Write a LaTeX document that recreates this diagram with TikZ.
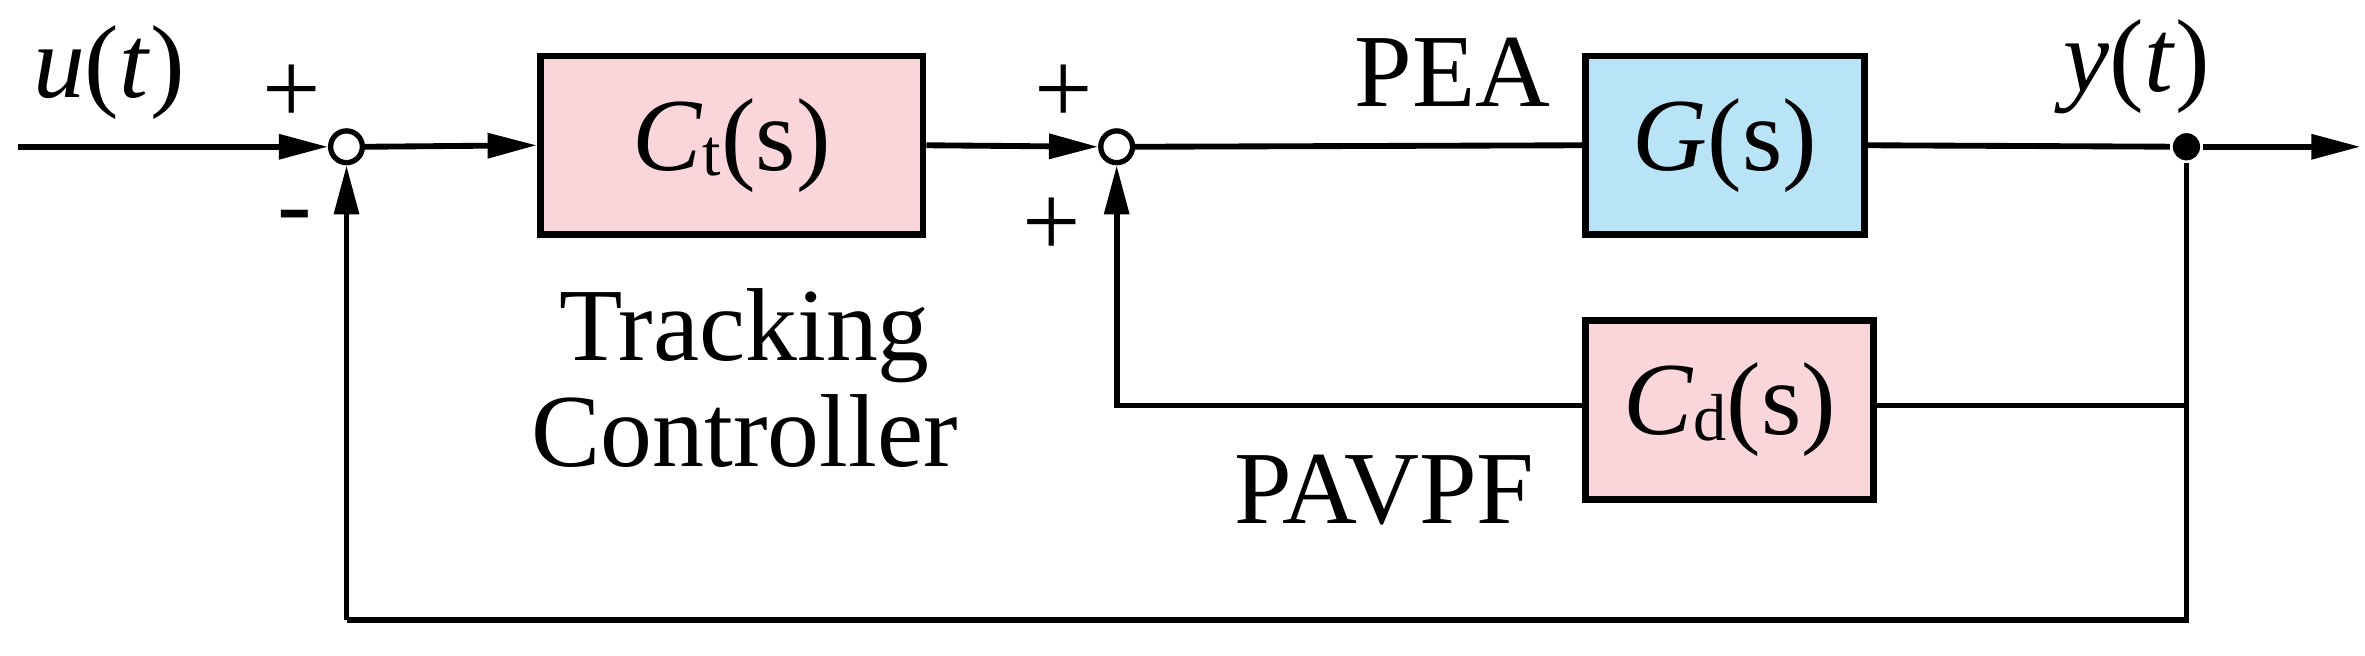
\documentclass[tikz,border=0pt]{standalone}
\usepackage{fontspec}
\setmainfont{Liberation Serif}
\usetikzlibrary{arrows.meta}
\begin{document}
\begin{tikzpicture}[x=0.02cm,y=-0.02cm,line width=2.2pt,
  blk/.style={draw,line width=2.6pt,minimum width=#1,inner sep=0pt},
  sumn/.style={draw,circle,fill=white,minimum size=0.42cm,inner sep=0pt,line width=2pt},
  arr/.style={-{Triangle[length=0.65cm,width=0.32cm]}},
  lbl/.style={font=\fontsize{39}{42}\selectfont}]
\useasboundingbox (0,0) rectangle (1563,433);
\definecolor{pinkb}{RGB}{250,214,218}
\definecolor{blueb}{RGB}{185,228,248}
\node[blk=5.06cm,minimum height=2.36cm,fill=pinkb,lbl] (ct) at (483.5,96) {\textit{C}\raisebox{-2pt}{\fontsize{25}{27}\selectfont t}(s)};
\node[blk=3.68cm,minimum height=2.36cm,fill=blueb,lbl] (g) at (1140,96) {\textit{G}(s)};
\node[blk=3.8cm,minimum height=2.36cm,fill=pinkb,lbl] (cd) at (1143,271) {\textit{C}\raisebox{-2pt}{\fontsize{25}{27}\selectfont d}(s)};
\node[sumn] (s1) at (229,97) {};
\node[sumn] (s2) at (738,97) {};
\node[circle,fill,minimum size=0.36cm,inner sep=0pt] (o) at (1445,97) {};
\coordinate (in) at (12,97);
\coordinate (out) at (1560,97);
\coordinate (fb) at (1445,410);
\coordinate (fbl) at (229,410);
\coordinate (cdr) at (1445,268);
\coordinate (cdl) at (738,268);
\draw[arr] (in) -- (s1.west);
\draw[arr] (s1.east) -- (ct.west);
\draw[arr] (ct.east) -- (s2.west);
\draw (s2.east) -- (g.west);
\draw (g.east) -- (o);
\draw[arr] (o) -- (out);
\draw (o) -- (fb) -- (fbl);
\draw[arr] (fbl) -- (s1.south);
\draw (cdr) -- (cd.east |- cdr);
\draw[arr] (cd.west |- cdl) -- (cdl) -- (s2.south);
\node[lbl] (u) at (72,48) {\textit{u}(\textit{t})};
\node[lbl] (y) at (1412,44) {\textit{y}(\textit{t})};
\node[lbl] (p1) at (193,62) {+};
\node[lbl] (m1) at (195,148) {-};
\node[lbl] (p2) at (703,62) {+};
\node[lbl] (p3) at (695,150) {+};
\node[lbl] (pea) at (960,48) {PEA};
\node[lbl,align=center] (tc) at (492,250) {Tracking\\[-2pt]Controller};
\node[lbl] (pav) at (915,324) {PAVPF};
\end{tikzpicture}
\end{document}
